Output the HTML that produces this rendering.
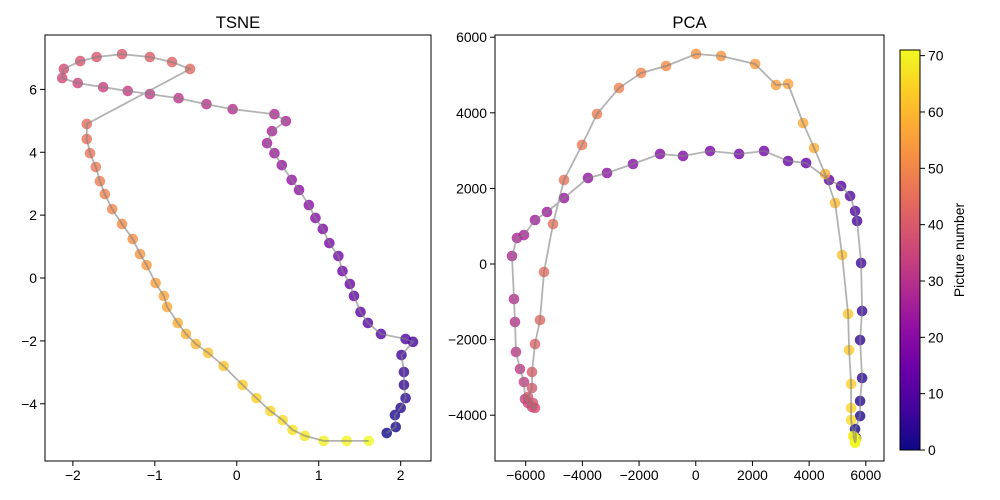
<!DOCTYPE html>
<html><head><meta charset="utf-8">
<style>
body{margin:0;background:#fff;}
svg{display:block;font-family:"Liberation Sans","DejaVu Sans",sans-serif;}
</style></head>
<body>
<svg id="fig" width="1000" height="500" viewBox="0 0 1000 500" xmlns="http://www.w3.org/2000/svg">
<defs>
<linearGradient id="plasma" x1="0" y1="1" x2="0" y2="0">
<stop offset="0" stop-color="#0d0887"/><stop offset="0.1" stop-color="#41049d"/><stop offset="0.2" stop-color="#6a00a8"/><stop offset="0.3" stop-color="#8f0da4"/><stop offset="0.4" stop-color="#b12a90"/><stop offset="0.5" stop-color="#cc4778"/><stop offset="0.6" stop-color="#e16462"/><stop offset="0.7" stop-color="#f2844b"/><stop offset="0.8" stop-color="#fca636"/><stop offset="0.9" stop-color="#fcce25"/><stop offset="1" stop-color="#f0f921"/>
</linearGradient>
</defs>
</svg>
<script>
const tsneX=[1.83,1.94,1.93,2.00,2.06,2.04,2.04,2.01,2.15,2.06,1.76,1.60,1.51,1.43,1.38,1.29,1.24,1.13,1.05,0.96,0.88,0.76,0.67,0.55,0.46,0.37,0.43,0.60,0.46,-0.05,-0.37,-0.71,-1.06,-1.33,-1.63,-1.94,-2.13,-2.11,-1.91,-1.71,-1.40,-1.06,-0.79,-0.57,-1.83,-1.83,-1.79,-1.72,-1.67,-1.61,-1.52,-1.40,-1.27,-1.18,-1.10,-0.99,-0.89,-0.85,-0.72,-0.62,-0.50,-0.35,-0.16,0.07,0.24,0.41,0.56,0.68,0.83,1.06,1.34,1.61];
const tsneY=[-4.93,-4.74,-4.36,-4.13,-3.82,-3.40,-2.99,-2.45,-2.03,-1.94,-1.78,-1.43,-1.08,-0.57,-0.19,0.22,0.70,1.11,1.56,1.91,2.32,2.80,3.12,3.59,3.97,4.29,4.67,4.99,5.21,5.37,5.53,5.72,5.85,5.95,6.07,6.20,6.36,6.65,6.90,7.03,7.12,7.03,6.87,6.65,4.90,4.42,3.97,3.53,3.08,2.67,2.19,1.72,1.24,0.76,0.41,-0.16,-0.57,-0.92,-1.43,-1.78,-2.10,-2.38,-2.80,-3.40,-3.82,-4.23,-4.52,-4.83,-5.02,-5.18,-5.18,-5.18];
const pcaX=[5657,5622,5798,5798,5869,5798,5869,5834,5692,5622,5445,5128,4704,3893,3257,2410,1528,505,-448,-1260,-2213,-3130,-3801,-4648,-5248,-5671,-6060,-6307,-6483,-6413,-6378,-6343,-6201,-6060,-6025,-5919,-5778,-5671,-5742,-5919,-5778,-5778,-5671,-5495,-5354,-5036,-4648,-4013,-3483,-2707,-1930,-1048,11,893,2093,2834,3257,3787,4175,4563,4916,5163,5375,5410,5481,5481,5481,5586,5622,5551,5657,5622];
const pcaY=[-4604,-4366,-4022,-3625,-3016,-2011,-1244,26,1138,1402,1799,2064,2223,2672,2725,2990,2911,2990,2858,2911,2646,2408,2276,1746,1376,1164,767,688,212,-926,-1535,-2328,-2778,-3122,-3572,-3678,-3784,-3810,-3678,-3519,-3281,-2858,-2117,-1482,-212,1058,2223,3149,3969,4657,5054,5239,5557,5504,5292,4736,4763,3731,3069,2381,1614,238,-1323,-2276,-3175,-3810,-4128,-4578,-4710,-4551,-4630,-4736];
const tsneXTicks=[-2,-1,0,1,2];
const tsneYTicks=[-4,-2,0,2,4,6];
const pcaXTicks=[-6000,-4000,-2000,0,2000,4000,6000];
const pcaYTicks=[-4000,-2000,0,2000,4000,6000];
const cbTicks=[0,10,20,30,40,50,60,70];

const NS="http://www.w3.org/2000/svg";
const svg=document.getElementById('fig');
function mk(tag,attrs,parent){const e=document.createElementNS(NS,tag);for(const k in attrs)e.setAttribute(k,attrs[k]);(parent||svg).appendChild(e);return e;}
const stops=[[13,8,135],[65,4,157],[106,0,168],[143,13,164],[177,42,144],[204,71,120],[225,100,98],[242,132,75],[252,166,54],[252,206,37],[240,249,33]];
function plasma(t){t=Math.max(0,Math.min(1,t))*10;const i=Math.min(9,Math.floor(t)),f=t-i;const a=stops[i],b=stops[i+1];return 'rgb('+a.map((v,k)=>Math.round(v+(b[k]-v)*f)).join(',')+')';}
const VMAX=71;
function fmt(v){return v<0?'\u2212'+Math.abs(v):String(v);}

function panel(name,box,xd,yd,xs,ys,xt,yt,title){
  const sx=v=>box.l+(v-xd[0])/(xd[1]-xd[0])*(box.r-box.l);
  const sy=v=>box.b-(v-yd[0])/(yd[1]-yd[0])*(box.b-box.t);
  const g=mk('g',{});
  
  
  const dots=mk('g',{},g);
  
  
  xs.forEach((v,i)=>{
    const c=mk('circle',{cx:sx(v),cy:sy(ys[i]),r:5.3,fill:plasma(i/VMAX),'fill-opacity':0.8},dots);
    
    
  });
  const pts=xs.map((v,i)=>sx(v).toFixed(1)+','+sy(ys[i]).toFixed(1)).join(' ');
  const line=mk('polyline',{points:pts,fill:'none',stroke:'#808080','stroke-opacity':0.6,'stroke-width':1.8},g);
  
  
  const fr=mk('rect',{x:box.l,y:box.t,width:box.r-box.l,height:box.b-box.t,fill:'none',stroke:'#000','stroke-width':1},g);
  
  
  xt.forEach(v=>{
    const x=sx(v);
    mk('line',{x1:x,x2:x,y1:box.b,y2:box.b+5,stroke:'#000'},g);
    const t=mk('text',{x:x,y:box.b+19,'font-size':13.9,'text-anchor':'middle'},g);
    t.textContent=fmt(v);
    
    
  });
  yt.forEach(v=>{
    const y=sy(v);
    mk('line',{x1:box.l-5,x2:box.l,y1:y,y2:y,stroke:'#000'},g);
    const t=mk('text',{x:box.l-8,y:y+5,'font-size':13.9,'text-anchor':'end'},g);
    t.textContent=fmt(v);
    
    
  });
  const tt=mk('text',{x:(box.l+box.r)/2,y:box.t-7,'font-size':16.7,'text-anchor':'middle'},g);
  tt.textContent=title;
  
  
}
panel('tsne',{l:45,r:431,t:35,b:461},[-2.34,2.37],[-5.82,7.73],tsneX,tsneY,tsneXTicks,tsneYTicks,'TSNE');
panel('pca',{l:495,r:884,t:35,b:461},[-7083,6641],[-5212,6059],pcaX,pcaY,pcaXTicks,pcaYTicks,'PCA');

// colorbar
const cb=mk('g',{});


const cbT=50,cbB=450,cbL=900,cbR=920;
mk('rect',{x:cbL,y:cbT,width:cbR-cbL,height:cbB-cbT,fill:'url(#plasma)',stroke:'#000','stroke-width':1},cb);
cbTicks.forEach(v=>{
  const y=cbB-v/VMAX*(cbB-cbT);
  mk('line',{x1:cbR,x2:cbR+5,y1:y,y2:y,stroke:'#000'},cb);
  const t=mk('text',{x:cbR+8,y:y+5,'font-size':13.9},cb);
  t.textContent=v;
  
  
});
const cl=mk('text',{x:964,y:250,'font-size':13.9,'text-anchor':'middle',transform:'rotate(-90 964 250)'},cb);
cl.textContent='Picture number';


</script>
</body></html>
